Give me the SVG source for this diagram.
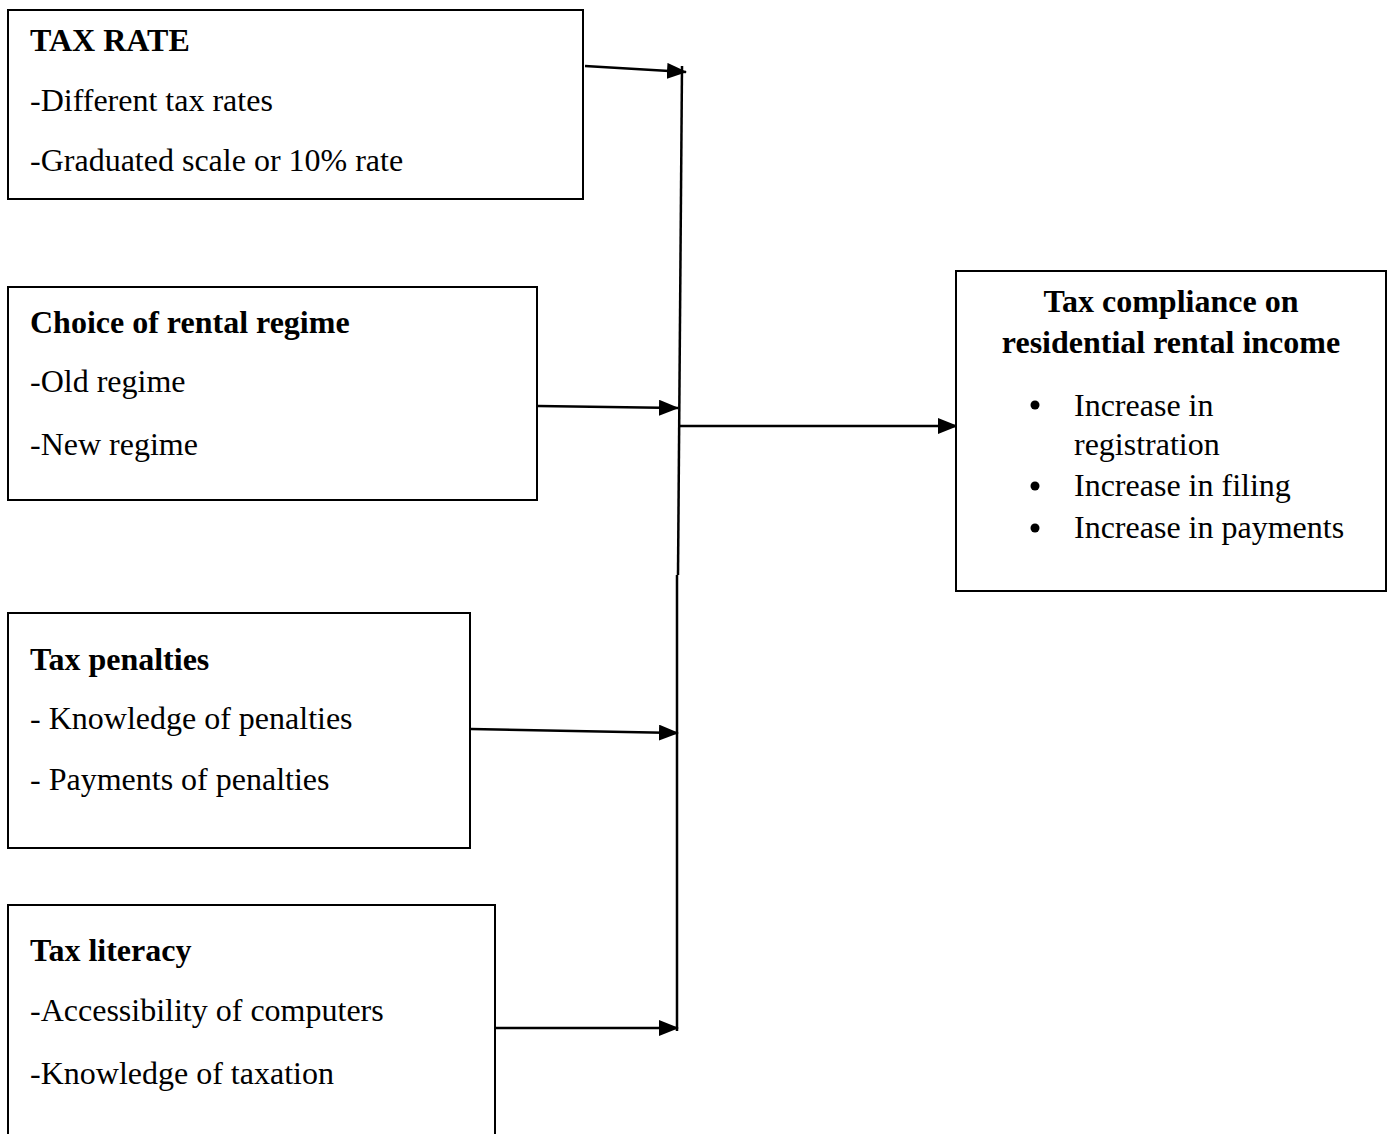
<svg xmlns="http://www.w3.org/2000/svg" width="1392" height="1134" viewBox="0 0 1392 1134">
<style>
.box{fill:#fff;stroke:#000;stroke-width:2}
.t{font-family:"Liberation Serif","Times New Roman",serif;font-size:32px;fill:#000}
.b{font-weight:bold}
.c{stroke:#000;stroke-width:2.5;fill:none}
</style>
<defs>
<marker id="ah2" markerWidth="20" markerHeight="16" refX="19" refY="8" orient="auto" markerUnits="userSpaceOnUse" viewBox="0 0 20 16">
<path d="M0,0 L20,8 L0,16 Z" fill="#000"/>
</marker>
</defs>
<rect width="1392" height="1134" fill="#fff"/>
<g id="connectors">
<line class="c" x1="682" y1="66" x2="678" y2="575"/>
<line class="c" x1="677" y1="575" x2="677" y2="1031"/>
<line class="c" x1="585" y1="66" x2="686" y2="72" marker-end="url(#ah2)"/>
<line class="c" x1="538" y1="406" x2="678" y2="408" marker-end="url(#ah2)"/>
<line class="c" x1="471" y1="729" x2="678" y2="733" marker-end="url(#ah2)"/>
<line class="c" x1="496" y1="1028" x2="678" y2="1028" marker-end="url(#ah2)"/>
<line class="c" x1="678" y1="426" x2="957" y2="426" marker-end="url(#ah2)"/>
</g>
<g id="taxrate">
<rect class="box" x="8" y="10" width="575" height="189"/>
<text class="t b" x="30" y="51">TAX RATE</text>
<text class="t" x="30" y="111">-Different tax rates</text>
<text class="t" x="30" y="171">-Graduated scale or 10% rate</text>
</g>
<g id="regime">
<rect class="box" x="8" y="287" width="529" height="213"/>
<text class="t b" x="30" y="333">Choice of rental regime</text>
<text class="t" x="30" y="392">-Old regime</text>
<text class="t" x="30" y="455">-New regime</text>
</g>
<g id="penalties">
<rect class="box" x="8" y="613" width="462" height="235"/>
<text class="t b" x="30" y="670">Tax penalties</text>
<text class="t" x="30" y="729">- Knowledge of penalties</text>
<text class="t" x="30" y="790">- Payments of penalties</text>
</g>
<g id="literacy">
<rect class="box" x="8" y="905" width="487" height="240"/>
<text class="t b" x="30" y="961">Tax literacy</text>
<text class="t" x="30" y="1021">-Accessibility of computers</text>
<text class="t" x="30" y="1084">-Knowledge of taxation</text>
</g>
<g id="compliance">
<rect class="box" x="956" y="271" width="430" height="320"/>
<text class="t b" x="1171" y="312" text-anchor="middle">Tax compliance on</text>
<text class="t b" x="1171" y="353" text-anchor="middle">residential rental income</text>
<circle cx="1035" cy="405" r="4.5" fill="#000"/>
<circle cx="1035" cy="486" r="4.5" fill="#000"/>
<circle cx="1035" cy="528" r="4.5" fill="#000"/>
<text class="t" x="1074" y="416">Increase in</text>
<text class="t" x="1074" y="455">registration</text>
<text class="t" x="1074" y="496">Increase in filing</text>
<text class="t" x="1074" y="538">Increase in payments</text>
</g>
</svg>
